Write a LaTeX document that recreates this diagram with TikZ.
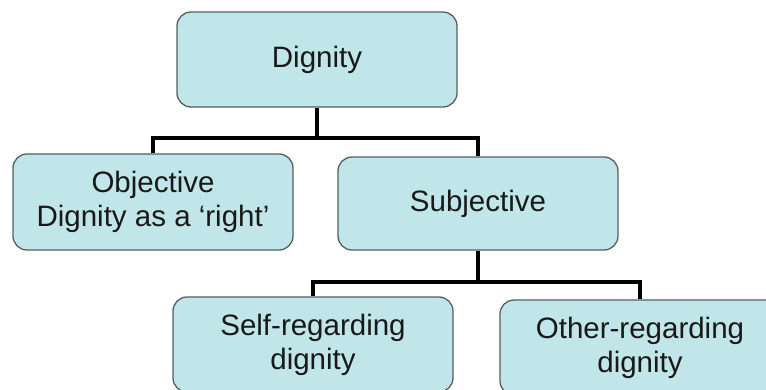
\documentclass[tikz,border=0pt]{standalone}
\usepackage{fontspec}
\setmainfont{Liberation Sans}
\definecolor{boxfill}{RGB}{192,230,234}
\definecolor{boxline}{RGB}{85,95,98}
\definecolor{txt}{RGB}{25,25,25}
\begin{document}
\begin{tikzpicture}[x=1pt,y=-1pt,
  box/.style={draw=boxline, line width=1.3pt, fill=boxfill, rounded corners=14pt,
    align=center, text=txt, font=\fontsize{29.5}{34}\selectfont, inner sep=0pt,
    minimum width=280pt},
  conn/.style={draw=black, line width=3.1pt}]
\useasboundingbox (0,0) rectangle (766,389);
\fill[white] (0,0) rectangle (766,389);
\node[box, minimum height=95pt] (dignity) at (317,59.5) {Dignity};
\node[box, minimum height=96pt] (objective) at (153,202) {Objective\\Dignity as a ‘right’};
\node[box, minimum height=93pt] (subjective) at (478,203.5) {Subjective};
\node[box, minimum height=95pt] (self) at (313,344.5) {Self-regarding\\dignity};
\node[box, minimum height=95pt] (other) at (640,347.5) {Other-regarding\\dignity};
\coordinate (j1) at (317,138);
\coordinate (j2) at (478,282);
\draw[conn] (dignity.south) -- (j1);
\draw[conn] (objective.north) |- (j1) -| (subjective.north);
\draw[conn] (subjective.south) -- (j2);
\draw[conn] (self.north) |- (j2) -| (other.north);
\end{tikzpicture}
\end{document}
